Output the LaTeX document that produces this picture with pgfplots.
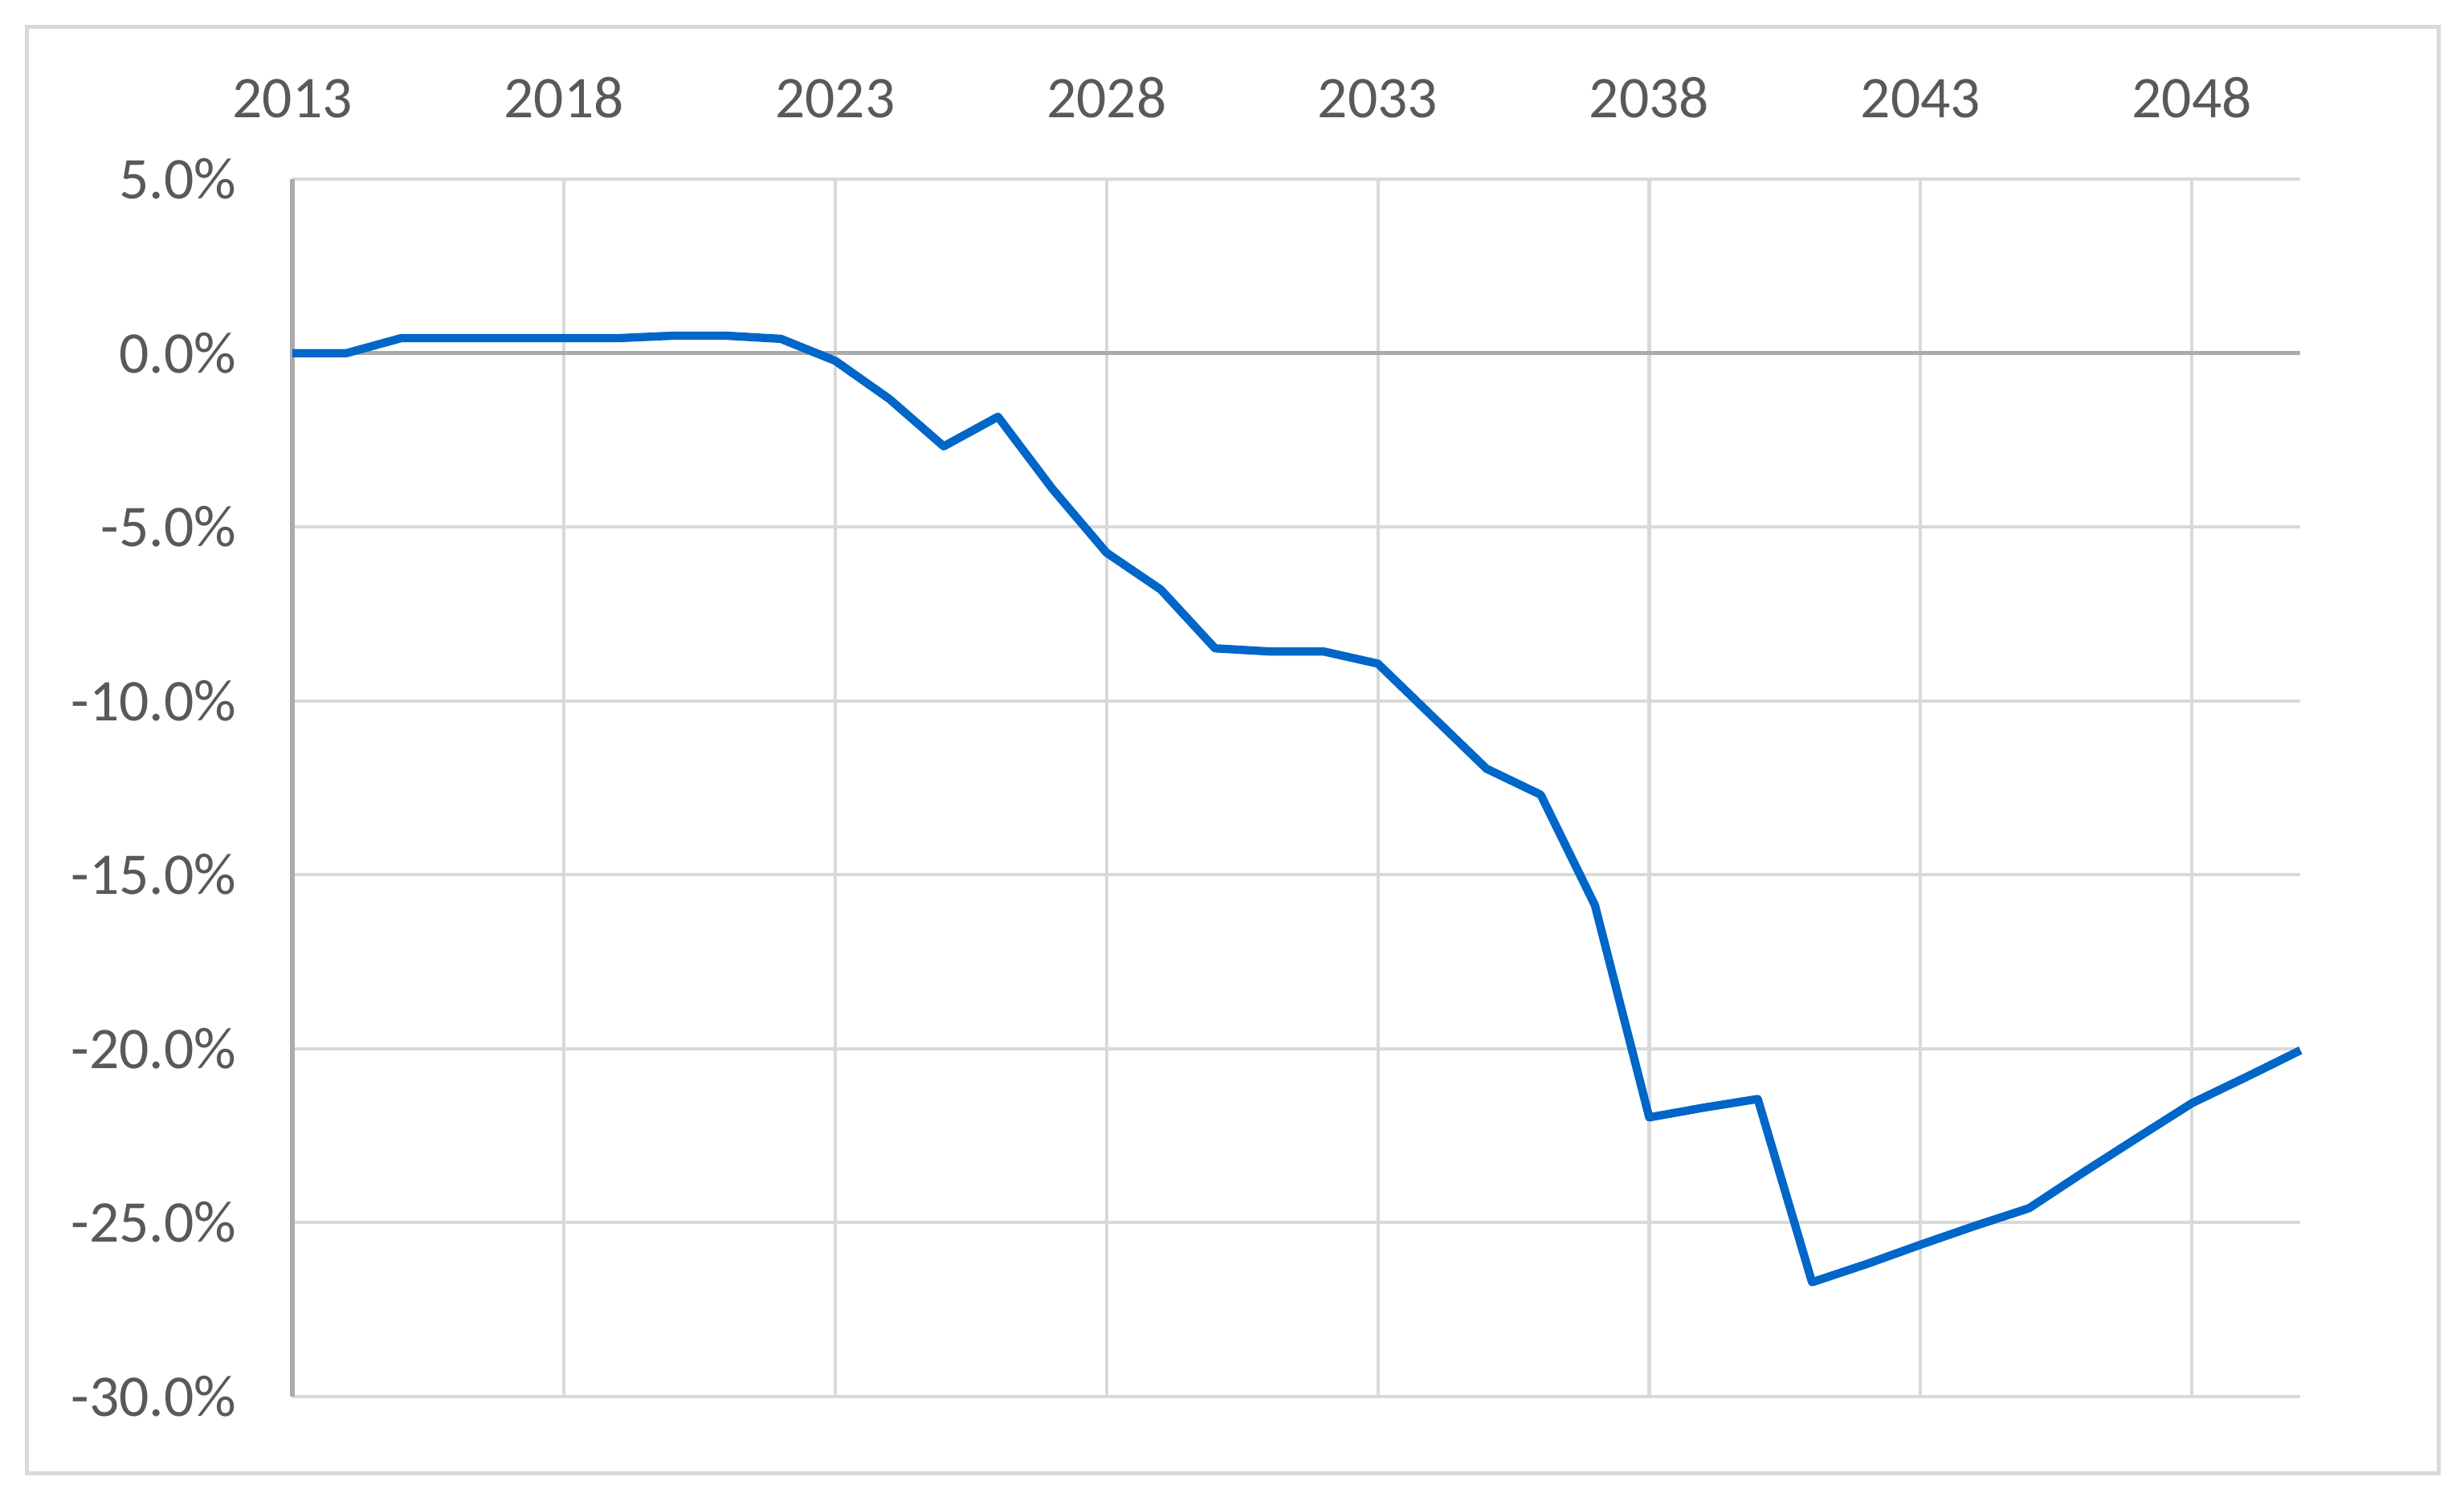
\documentclass[border=0pt]{standalone}
\usepackage{pgfplots}
\pgfplotsset{compat=1.18}
\usepackage{fontspec}
\setmainfont{Carlito}

\definecolor{linebl}{HTML}{0066C8}
\definecolor{gridg}{HTML}{D9D9D9}
\definecolor{axisg}{HTML}{ABABAB}
\definecolor{textg}{HTML}{595959}

\begin{document}
\begin{tikzpicture}
  \begin{axis}[
      scale only axis,
      width=12.77cm,
      height=7.74cm,
      xmin=2013, xmax=2050,
      ymin=-30, ymax=5,
      axis line style={draw=none},
      tick style={draw=none},
      xtick={2018,2023,2028,2033,2038,2043,2048},
      xticklabels={2018,2023,2028,2033,2038,2043,2048},
      extra x ticks={2013},
      extra x tick labels={2013},
      extra x tick style={major grid style={axisg, line width=0.8pt}},
      xticklabel pos=upper,
      ytick={-30,-25,-20,-15,-10,-5,5},
      yticklabels={-30.0\%,-25.0\%,-20.0\%,-15.0\%,-10.0\%,-5.0\%,5.0\%},
      extra y ticks={0},
      extra y tick labels={0.0\%},
      extra y tick style={major grid style={axisg, line width=0.8pt}},
      xmajorgrids, ymajorgrids,
      major grid style={gridg, line width=0.6pt},
      ticklabel style={font=\fontsize{10.7}{12}\selectfont, text=textg, inner sep=0pt},
      xticklabel style={anchor=base, yshift=3.9mm},
      yticklabel style={anchor=east, xshift=-3.5mm},
      clip=false,
    ]
    \addplot[linebl, line width=1.5pt, line join=round] coordinates {
      (2013,0.0) (2014,0.0) (2015,0.43) (2016,0.43) (2017,0.43) (2018,0.43)
      (2019,0.43) (2020,0.5) (2021,0.5) (2022,0.41) (2023,-0.22) (2024,-1.32)
      (2025,-2.68) (2026,-1.83) (2027,-3.9) (2028,-5.74) (2029,-6.8) (2030,-8.49)
      (2031,-8.58) (2032,-8.58) (2033,-8.93) (2034,-10.44) (2035,-11.95) (2036,-12.7)
      (2037,-15.88) (2038,-21.98) (2039,-21.7) (2040,-21.45) (2041,-26.72) (2042,-26.2)
      (2043,-25.64) (2044,-25.1) (2045,-24.59) (2046,-23.56) (2047,-22.56) (2048,-21.57)
      (2049,-20.82) (2050,-20.05)
    };
    \coordinate (sw) at (rel axis cs:0,0);
    \coordinate (ne) at (rel axis cs:1,1);
  \end{axis}
  % chart frame and outer margin
  \draw[gridg, line width=0.7pt] ([xshift=-1.69cm,yshift=-0.49cm]sw) rectangle ([xshift=0.88cm,yshift=0.97cm]ne);
  \path ([xshift=-1.86cm,yshift=-0.64cm]sw) rectangle ([xshift=1.04cm,yshift=1.14cm]ne);
\end{tikzpicture}
\end{document}
